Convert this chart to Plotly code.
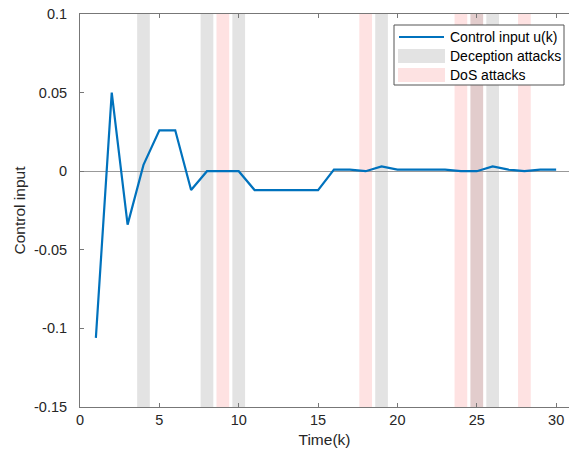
import plotly.graph_objects as go

# ---- data ----
k = list(range(1, 31))
u = [-0.106, 0.050, -0.034, 0.004, 0.026, 0.026, -0.012, 0.000, 0.000, 0.000,
     -0.012, -0.012, -0.012, -0.012, -0.012, 0.001, 0.001, 0.000, 0.003, 0.001,
     0.001, 0.001, 0.001, 0.000, 0.000, 0.003, 0.001, 0.000, 0.001, 0.001]
deception_k = [4, 8, 10, 19, 25, 26]
dos_k = [9, 18, 24, 25, 28]
x_ticks = [0, 5, 10, 15, 20, 25, 30]
y_ticks = [-0.15, -0.1, -0.05, 0, 0.05, 0.1]
y_ticklabels = ["-0.15", "-0.1", "-0.05", "0", "0.05", "0.1"]

HALF = 0.4
GRAY = "rgba(128,128,128,0.22)"
PINK = "rgba(250,60,60,0.15)"
BLUE = "#0072BD"
FONT = "Arial, Liberation Sans, sans-serif"

fig = go.Figure()
fig.add_trace(go.Scatter(x=k, y=u, mode="lines", line=dict(color=BLUE, width=2.2),
                         name="Control input u(k)", showlegend=False))

shapes = []
for t in dos_k:
    shapes.append(dict(type="rect", xref="x", yref="paper", x0=t - HALF, x1=t + HALF,
                       y0=0, y1=1, fillcolor=PINK, line=dict(width=0), layer="below"))
for t in deception_k:
    shapes.append(dict(type="rect", xref="x", yref="paper", x0=t - HALF, x1=t + HALF,
                       y0=0, y1=1, fillcolor=GRAY, line=dict(width=0), layer="below"))

# custom legend (pixel -> paper)
L, R, T, B = 80, 569, 14, 407
def px(x):
    return (x - L) / (R - L)
def py(y):
    return (B - y) / (B - T)

shapes.append(dict(type="rect", xref="paper", yref="paper", x0=px(394), x1=px(564),
                   y0=py(85), y1=py(25), fillcolor="white",
                   line=dict(color="#555", width=1), layer="above"))
shapes.append(dict(type="line", xref="paper", yref="paper", x0=px(399), x1=px(444),
                   y0=py(37), y1=py(37), line=dict(color=BLUE, width=2.2), layer="above"))
shapes.append(dict(type="rect", xref="paper", yref="paper", x0=px(398), x1=px(445),
                   y0=py(63), y1=py(49), fillcolor="#e3e3e3", line=dict(width=0), layer="above"))
shapes.append(dict(type="rect", xref="paper", yref="paper", x0=px(398), x1=px(445),
                   y0=py(82), y1=py(68), fillcolor="#fde2e2", line=dict(width=0), layer="above"))

annotations = []
for txt, yy in [("Control input u(k)", 37), ("Deception attacks", 56), ("DoS attacks", 75)]:
    annotations.append(dict(text=txt, xref="paper", yref="paper", x=px(448), y=py(yy),
                            xanchor="left", yanchor="middle", showarrow=False,
                            font=dict(family=FONT, size=14, color="#000")))

fig.update_layout(
    width=569, height=458,
    margin=dict(l=80, r=0, t=14, b=51),
    paper_bgcolor="white", plot_bgcolor="white",
    font=dict(family=FONT, size=14, color="#262626"),
    shapes=shapes, annotations=annotations,
    showlegend=False,
    xaxis=dict(range=[0, 30.81], tickvals=x_ticks, ticks="inside", ticklen=4,
               tickcolor="#777", showline=True, linecolor="#777", linewidth=1,
               mirror="ticks", showgrid=False, zeroline=False,
               title=dict(text="Time(k)", font=dict(size=15.5), standoff=6),
               tickfont=dict(size=14.5)),
    yaxis=dict(range=[-0.15, 0.1], tickvals=y_ticks, ticktext=y_ticklabels,
               ticks="inside", ticklen=4, tickcolor="#777", showline=True,
               linecolor="#777", linewidth=1, mirror=False, showgrid=False,
               zeroline=True, zerolinecolor="#999", zerolinewidth=1,
               title=dict(text="Control input", font=dict(size=15.5), standoff=4),
               tickfont=dict(size=14.5), ticklabelstandoff=9),
)

fig.write_html("out.html")
